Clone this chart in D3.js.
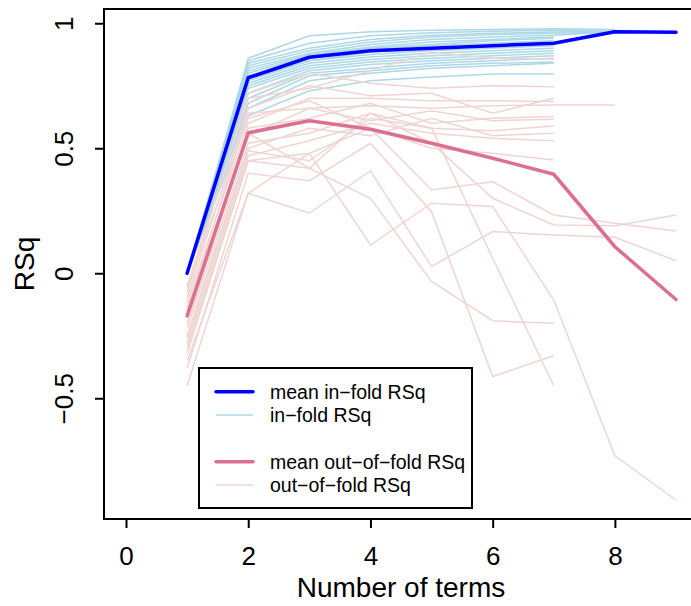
<!DOCTYPE html>
<html><head><meta charset="utf-8">
<script src="https://cdn.jsdelivr.net/npm/d3@7"></script>
<style>body{margin:0;background:#fff}svg{display:block}</style>
</head><body>
<script>
// number of terms
const terms = [1,2,3,4,5,6,7,8,9];
// mean in-fold RSq
const meanInFold = [0, 0.782, 0.864, 0.89, 0.90, 0.91, 0.92, 0.966, 0.964];
// mean out-of-fold RSq
const meanOutFold = [-0.17, 0.562, 0.61, 0.576, 0.52, 0.46, 0.396, 0.106, -0.105];
// in-fold RSq per fold
const inFold = [
  [0, 0.86, 0.95, 0.966, 0.972, 0.975, 0.978, 0.975],
  [0, 0.85, 0.92, 0.95, 0.962, 0.968, 0.972, 0.968, 0.966],
  [0, 0.84, 0.90, 0.935, 0.952, 0.96, 0.965, 0.966, 0.964],
  [0, 0.83, 0.89, 0.925, 0.945, 0.955, 0.96, 0.965, 0.963],
  [0, 0.82, 0.88, 0.915, 0.935, 0.945, 0.952, 0.966, 0.964],
  [0, 0.81, 0.875, 0.905, 0.925, 0.935, 0.945],
  [0, 0.80, 0.87, 0.90, 0.915, 0.93, 0.94],
  [0, 0.79, 0.86, 0.895, 0.91, 0.92, 0.93],
  [0, 0.78, 0.85, 0.885, 0.90, 0.91, 0.92],
  [0, 0.77, 0.85, 0.875, 0.89, 0.90, 0.91],
  [0, 0.76, 0.84, 0.865, 0.88, 0.89, 0.90],
  [0, 0.75, 0.83, 0.855, 0.87, 0.88, 0.89],
  [0, 0.74, 0.82, 0.845, 0.86, 0.87, 0.88],
  [0, 0.72, 0.81, 0.835, 0.85, 0.86, 0.87],
  [0, 0.70, 0.80, 0.82, 0.84, 0.85, 0.86],
  [0, 0.68, 0.79, 0.81, 0.83, 0.84, 0.845],
  [0, 0.66, 0.77, 0.80, 0.82, 0.83, 0.84],
  [0, 0.63, 0.73, 0.77, 0.785, 0.797, 0.797]
];
// out-of-fold RSq per fold
const outFold = [
  [-0.05, 0.70, 0.74, 0.81, 0.884, 0.86, 0.856],
  [-0.08, 0.72, 0.80, 0.76, 0.74, 0.75, 0.746],
  [-0.10, 0.66, 0.75, 0.71, 0.72, 0.64, 0.70],
  [-0.12, 0.60, 0.70, 0.70, 0.69, 0.69, 0.687],
  [-0.15, 0.64, 0.66, 0.67, 0.66, 0.67, 0.673, 0.673],
  [-0.18, 0.58, 0.62, 0.68, 0.60, 0.62, 0.627],
  [-0.20, 0.55, 0.66, 0.61, 0.65, 0.61, 0.616],
  [-0.22, 0.52, 0.56, 0.64, 0.58, 0.57, 0.589],
  [-0.25, 0.50, 0.58, 0.55, 0.62, 0.55, 0.56],
  [-0.28, 0.47, 0.53, 0.60, 0.56, 0.54, 0.53],
  [-0.30, 0.45, 0.48, 0.58, 0.50, 0.48, 0.453],
  [-0.06, 0.62, 0.69, 0.58, 0.333, 0.366, 0.233, 0.20, 0.169],
  [-0.14, 0.56, 0.42, 0.64, 0.52, 0.30, 0.193, 0.19, 0.233],
  [-0.35, 0.32, 0.24, 0.41, 0.027, 0.167, 0.153, 0.144, 0.05],
  [-0.45, 0.32, 0.48, 0.113, 0.28, 0.267, -0.107, -0.73, -0.907],
  [-0.32, 0.45, 0.42, 0.30, -0.033, -0.19, -0.20],
  [-0.38, 0.40, 0.37, 0.52, 0.246, -0.413, -0.33],
  [-0.26, 0.49, 0.45, 0.62, 0.58, 0.06, -0.45]
];
const xTicks = [0, 2, 4, 6, 8];
const yTicks = [-0.5, 0, 0.5, 1];
const yTickLabels = ["\u22120.5", "0", "0.5", "1"];
const legendLabels = ["mean in\u2212fold RSq", "in\u2212fold RSq", "mean out\u2212of\u2212fold RSq", "out\u2212of\u2212fold RSq"];

const W = 691, H = 606;
const FONT = "'Liberation Sans', Arial, Helvetica, sans-serif";
const svg = d3.select("body").append("svg").attr("width", W).attr("height", H)
  .style("font-family", FONT);

const x = d3.scaleLinear().domain([-0.36, 9.36]).range([104, 698]);
const y = d3.scaleLinear().domain([-0.983, 1.057]).range([519, 9]);

const C_IN = "#ADD8E6", C_OUT = "#EED5D2", C_MEANIN = "#0000FF", C_MEANOUT = "#DB7093";

const line = d3.line().x((d, i) => x(terms[i])).y(d => y(d));

const g = svg.append("g");
g.selectAll(".inf").data(inFold).join("path")
  .attr("d", line).attr("fill", "none").attr("stroke", C_IN).attr("stroke-width", 1.5);
g.selectAll(".outf").data(outFold).join("path")
  .attr("d", line).attr("fill", "none").attr("stroke", C_OUT).attr("stroke-width", 1.5);
g.append("path").attr("d", line(meanInFold)).attr("fill", "none")
  .attr("stroke", C_MEANIN).attr("stroke-width", 3.5).attr("stroke-linecap", "round").attr("stroke-linejoin", "round");
g.append("path").attr("d", line(meanOutFold)).attr("fill", "none")
  .attr("stroke", C_MEANOUT).attr("stroke-width", 3.5).attr("stroke-linecap", "round").attr("stroke-linejoin", "round");

// box
svg.append("rect").attr("x", 104).attr("y", 9).attr("width", 594).attr("height", 510)
  .attr("fill", "none").attr("stroke", "#000").attr("stroke-width", 2);

// x axis
const xAxis = d3.axisBottom(x).tickValues(xTicks).tickSize(9).tickPadding(8).tickFormat(d3.format("d"));
const xa = svg.append("g").attr("transform", "translate(0,519)").call(xAxis);
xa.select(".domain").remove();
xa.selectAll("line").attr("stroke", "#000").attr("stroke-width", 2);
xa.selectAll("text").attr("font-family", FONT).attr("font-size", 26).attr("fill", "#000")
  .attr("y", 46).attr("dy", null);

// y axis
const yAxis = d3.axisLeft(y).tickValues(yTicks).tickSize(9).tickFormat((d, i) => yTickLabels[i]);
const ya = svg.append("g").attr("transform", "translate(104,0)").call(yAxis);
ya.select(".domain").remove();
ya.selectAll("line").attr("stroke", "#000").attr("stroke-width", 2);
ya.selectAll("text").attr("font-family", FONT).attr("font-size", 26).attr("fill", "#000")
  .attr("x", null).attr("dy", null)
  .attr("text-anchor", "middle")
  .attr("transform", "translate(-31,0) rotate(-90)");

// axis titles
svg.append("text").attr("x", 401).attr("y", 597).attr("text-anchor", "middle")
  .attr("font-size", 28).attr("fill", "#000").text("Number of terms");
svg.append("text").attr("transform", "translate(34,264) rotate(-90)").attr("text-anchor", "middle")
  .attr("font-size", 28).attr("fill", "#000").text("RSq");

// legend
const lg = svg.append("g");
lg.append("rect").attr("x", 199).attr("y", 368).attr("width", 273).attr("height", 140)
  .attr("fill", "#fff").attr("stroke", "#000").attr("stroke-width", 2);
const legRows = [
  {y: 391.7, c: C_MEANIN, w: 3.5, t: legendLabels[0]},
  {y: 415, c: C_IN, w: 1.5, t: legendLabels[1]},
  {y: 461.7, c: C_MEANOUT, w: 3.5, t: legendLabels[2]},
  {y: 485, c: C_OUT, w: 1.5, t: legendLabels[3]}
];
legRows.forEach(r => {
  lg.append("line").attr("x1", 216).attr("x2", 253).attr("y1", r.y).attr("y2", r.y)
    .attr("stroke", r.c).attr("stroke-width", r.w).attr("stroke-linecap", r.w > 2 ? "round" : "butt");
  lg.append("text").attr("x", 270).attr("y", r.y).attr("dy", "0.35em")
    .attr("font-size", 19.5).attr("fill", "#000").text(r.t);
});
</script>
</body></html>
